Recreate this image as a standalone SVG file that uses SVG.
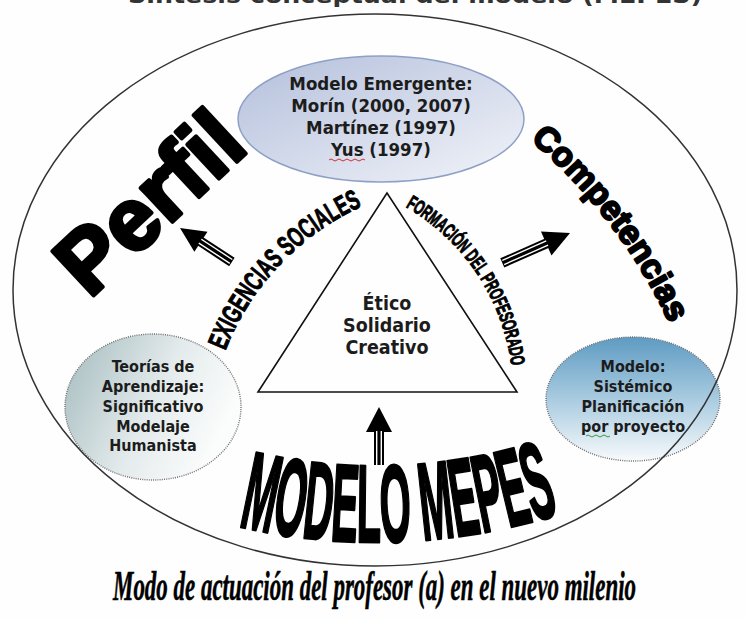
<svg xmlns="http://www.w3.org/2000/svg" width="746" height="619" viewBox="0 0 746 619">
<defs>
<linearGradient id="gTop" x1="0" y1="0" x2="1" y2="1">
<stop offset="0" stop-color="#b3bfdb"/><stop offset="1" stop-color="#f2f4f9"/>
</linearGradient>
<linearGradient id="gLeft" x1="0" y1="0" x2="1" y2="0.4">
<stop offset="0" stop-color="#a3babd"/><stop offset="0.6" stop-color="#e4ebec"/><stop offset="1" stop-color="#fbfcfc"/>
</linearGradient>
<linearGradient id="gRight" x1="0" y1="0" x2="0" y2="1">
<stop offset="0" stop-color="#5e9bc2"/><stop offset="0.5" stop-color="#a9cbe0"/><stop offset="1" stop-color="#f7fafc"/>
</linearGradient>
<path id="pComp" d="M 529.9 139.6 A 545 545 0 0 1 669.9 323.7"/>
<path id="pExig" d="M 225.3 350.7 A 265 265 0 0 1 364.5 205.1"/>
<path id="pForm" d="M 405.5 206.8 A 215 215 0 0 1 511.4 366.8"/>
<path id="pMepes" d="M 238 526 Q 400 564 566 512"/>
</defs>
<style>
.node{font-family:"DejaVu Sans Condensed","DejaVu Sans",sans-serif;font-weight:bold;fill:#1c1c1c;text-anchor:middle;font-stretch:condensed}
.big{font-family:"Liberation Sans",Arial,sans-serif;font-weight:900;fill:#000;stroke:#000;stroke-linejoin:round}
.arc{font-family:"Liberation Sans Narrow","Liberation Sans",sans-serif;font-weight:bold;fill:#000;stroke:#000;stroke-width:1}
.dotted{stroke:#6e6e6e;stroke-width:1.4;stroke-dasharray:1 1.2}
.shaft{fill:#000}
.gap{fill:#fff}
</style>
<rect width="746" height="619" fill="#fefefe"/>

<text x="128" y="3" textLength="574" lengthAdjust="spacingAndGlyphs" style="font-family:'DejaVu Sans',sans-serif;font-weight:bold;font-size:22px;fill:#333">Síntesis conceptual del modelo (MEPES)</text>

<g id="node-teorias">
<ellipse cx="153" cy="407" rx="88" ry="73" fill="url(#gLeft)" class="dotted"/>
<text class="node" font-size="16"><tspan x="153" y="372">Teorías de</tspan><tspan x="153" y="392">Aprendizaje:</tspan><tspan x="153" y="412">Significativo</tspan><tspan x="153" y="432">Modelaje</tspan><tspan x="153" y="451">Humanista</tspan></text>
</g>

<g id="node-sistemico">
<ellipse cx="633" cy="399" rx="87" ry="62" fill="url(#gRight)" class="dotted"/>
<text class="node" font-size="16"><tspan x="633" y="372">Modelo:</tspan><tspan x="633" y="392">Sistémico</tspan><tspan x="633" y="412">Planificación</tspan><tspan x="633" y="432">por proyecto</tspan></text>
<path d="M 586 436 q 2 -2 4 0 t 4 0 t 4 0 t 4 0 t 4 0 t 4 0" fill="none" stroke="#3a9a3a" stroke-width="1"/>
</g>

<g id="node-marco">
<ellipse cx="375" cy="290" rx="362" ry="276" fill="none" stroke="#333" stroke-width="1.5"/>
</g>

<g id="node-emergente">
<ellipse cx="381" cy="119" rx="143" ry="63" fill="url(#gTop)" stroke="#8fa0c6" stroke-width="1.5"/>
<text class="node" font-size="18.5"><tspan x="381" y="90">Modelo Emergente:</tspan><tspan x="381" y="112">Morín (2000, 2007)</tspan><tspan x="381" y="134">Martínez (1997)</tspan><tspan x="381" y="156">Yus (1997)</tspan></text>
<path d="M 329 160 q 2 -2 4 0 t 4 0 t 4 0 t 4 0 t 4 0 t 4 0 t 4 0 t 4 0 t 4 0" fill="none" stroke="#d03030" stroke-width="1"/>
</g>

<g id="node-triangulo">
<polygon points="387,193 258,392 517,392" fill="none" stroke="#111" stroke-width="1.6"/>
<text class="node" font-size="19.5"><tspan x="387" y="310">Ético</tspan><tspan x="387" y="332">Solidario</tspan><tspan x="387" y="354">Creativo</tspan></text>
</g>

<g id="node-perfil">
<text class="big" transform="translate(148,201) rotate(-43)" x="0" y="32" text-anchor="middle" font-size="88" stroke-width="4">Perfil</text>
</g>

<g id="node-competencias">
<text class="big" font-size="34" stroke-width="2.2"><textPath href="#pComp" startOffset="50%" text-anchor="middle">Competencias</textPath></text>
</g>

<g id="node-exigencias">
<text class="arc" font-size="28" textLength="204" lengthAdjust="spacingAndGlyphs"><textPath href="#pExig">EXIGENCIAS SOCIALES</textPath></text>
</g>

<g id="node-formacion">
<text class="arc" font-size="20" textLength="198" lengthAdjust="spacingAndGlyphs"><textPath href="#pForm">FORMACIÓN DEL PROFESORADO</textPath></text>
</g>

<g id="node-mepes">
<text style="font-family:'Liberation Sans Narrow','Liberation Sans',sans-serif;font-weight:bold;fill:#000;stroke:#000;stroke-width:3;stroke-linejoin:round" font-size="110" textLength="326" lengthAdjust="spacingAndGlyphs"><textPath href="#pMepes">MODELO MEPES</textPath></text>
</g>

<g id="node-caption">
<text x="113" y="600" textLength="523" lengthAdjust="spacingAndGlyphs" style="font-family:'Liberation Serif',serif;font-style:italic;font-weight:bold;font-size:43px;fill:#000;stroke:#000;stroke-width:0.6">Modo de actuación del profesor (a) en el nuevo milenio</text>
</g>

<g id="connectors">
<g transform="translate(180,228) rotate(-56.8)">
<polygon points="0,0 -12,25 12,25" fill="#000"/>
<rect class="shaft" x="-5" y="24" width="10" height="38"/>
<rect class="gap" x="-3" y="24" width="1.4" height="37"/>
<rect class="gap" x="1.6" y="24" width="1.4" height="37"/>
</g>
<g transform="translate(570,233) rotate(66.2)">
<polygon points="0,0 -13,26 13,26" fill="#000"/>
<rect class="shaft" x="-5" y="25" width="10" height="49"/>
<rect class="gap" x="-3" y="25" width="1.4" height="48"/>
<rect class="gap" x="1.6" y="25" width="1.4" height="48"/>
</g>
<g transform="translate(379,407)">
<polygon points="0,0 -13,25 13,25" fill="#000"/>
<rect class="shaft" x="-5" y="24" width="10" height="34"/>
<rect class="gap" x="-3" y="24" width="1.4" height="34"/>
<rect class="gap" x="1.6" y="24" width="1.4" height="34"/>
</g>
</g>
</svg>
